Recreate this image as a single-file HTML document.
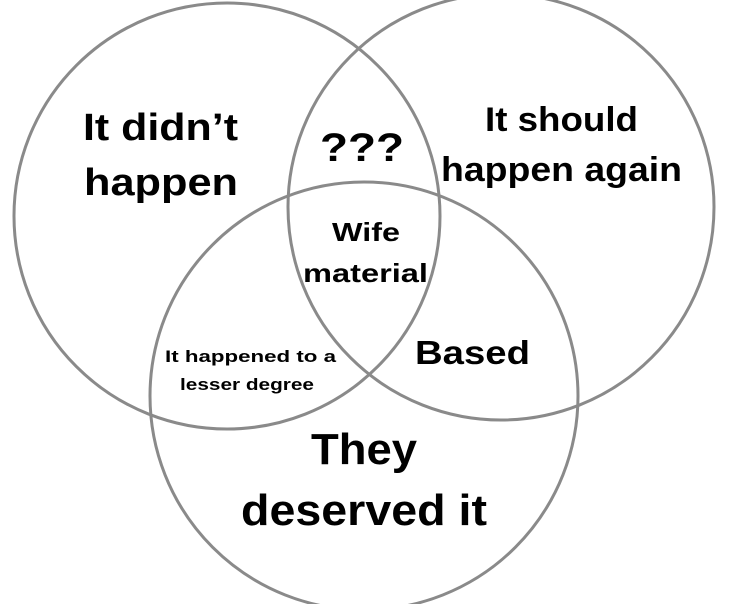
<!DOCTYPE html>
<html><head><style>
html,body{margin:0;padding:0;background:#fff;}
svg{display:block;}
text{font-family:"Liberation Sans",Arial,sans-serif;font-weight:bold;fill:#000;}
</style></head><body>
<svg width="750" height="604" viewBox="0 0 750 604">
<rect width="750" height="604" fill="#fff"/>
<g fill="none" stroke="#8a8a8a" stroke-width="3">
<circle cx="227" cy="216" r="213"/>
<circle cx="501" cy="207" r="213"/>
<circle cx="364" cy="396" r="214"/>
</g>
<text x="83" y="140" font-size="38" textLength="155" lengthAdjust="spacingAndGlyphs">It didn’t</text>
<text x="84" y="195" font-size="38" textLength="154" lengthAdjust="spacingAndGlyphs">happen</text>
<text x="320" y="161" font-size="40" textLength="84" lengthAdjust="spacingAndGlyphs">???</text>
<text x="485" y="131" font-size="34" textLength="153" lengthAdjust="spacingAndGlyphs">It should</text>
<text x="441" y="181" font-size="34" textLength="241" lengthAdjust="spacingAndGlyphs">happen again</text>
<text x="332" y="241" font-size="26" textLength="68" lengthAdjust="spacingAndGlyphs">Wife</text>
<text x="303" y="282" font-size="26" textLength="125" lengthAdjust="spacingAndGlyphs">material</text>
<text x="165" y="362" font-size="17" textLength="171" lengthAdjust="spacingAndGlyphs">It happened to a</text>
<text x="180" y="390" font-size="17" textLength="134" lengthAdjust="spacingAndGlyphs">lesser degree</text>
<text x="415" y="364" font-size="33" textLength="115" lengthAdjust="spacingAndGlyphs">Based</text>
<text x="311" y="464" font-size="44" textLength="106" lengthAdjust="spacingAndGlyphs">They</text>
<text x="241" y="525" font-size="44" textLength="246" lengthAdjust="spacingAndGlyphs">deserved it</text>
</svg>
</body></html>
